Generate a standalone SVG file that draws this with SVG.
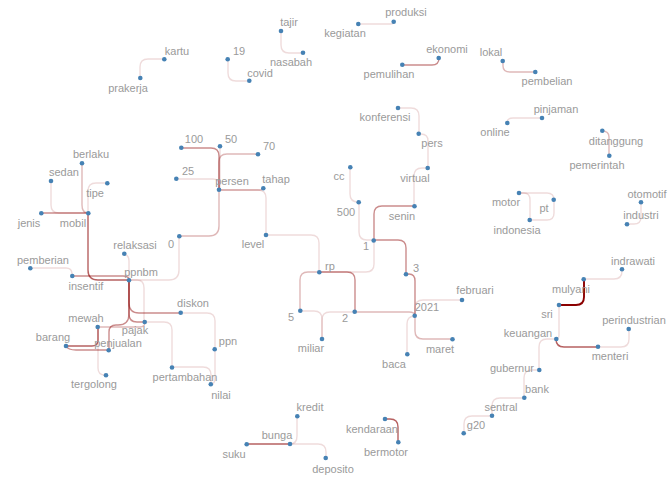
<svg xmlns="http://www.w3.org/2000/svg" width="672" height="480" viewBox="0 0 672 480">
<style>
.e{fill:none;stroke:#8b0000;stroke-width:1.4;stroke-linecap:round}
.l1{stroke-opacity:0.14}
.l2{stroke-opacity:0.28}
.l3{stroke-opacity:0.45}
.l4{stroke-opacity:0.62}
.l5{stroke-opacity:1;stroke-width:1.9}
circle{fill:#4682b4}
text{font-family:"Liberation Sans",Arial,sans-serif;font-size:11px;fill:#9a9a9a;text-anchor:middle}
</style>
<rect width="672" height="480" fill="#ffffff"/>
<g id="edges">
<path class="e l4" d="M88,213 V270 Q88,280 98,280 H129"/>
<path class="e l3" d="M72,276 H123 Q129,276 129,280"/>
<path class="e l1" d="M30,268 H66 Q72,268 72,274 V276"/>
<path class="e l1" d="M124,254 H122 Q129,254 129,261 V280"/>
<path class="e l1" d="M179,236 V270 Q179,280 169,280 H129"/>
<path class="e l1" d="M129,280 H137 Q144,280 144,288 V322"/>
<path class="e l2" d="M179,236 H209 Q219,236 219,226 V190"/>
<path class="e l3" d="M129,280 V303 Q129,313 139,313 H181"/>
<path class="e l3" d="M129,280 V314 Q129,322 137,322 H145"/>
<path class="e l3" d="M129,280 V314 Q129,325 118,325 H116 Q109,325 109,332 V350"/>
<path class="e l2" d="M98,327 H140 Q145,327 145,322"/>
<path class="e l4" d="M66,346 H92 Q98,346 98,340 V327"/>
<path class="e l3" d="M66,346 Q68,350 76,350 H109"/>
<path class="e l1" d="M98,327 V368 Q98,375 105,375 H106"/>
<path class="e l1" d="M181,313 H207 Q215,313 215,321 V349"/>
<path class="e l1" d="M215,349 V378 Q215,384 211,384"/>
<path class="e l1" d="M145,322 H164 Q172,322 172,330 V367"/>
<path class="e l1" d="M172,367 H203 Q211,367 211,375 V384"/>
<path class="e l2" d="M82,163 V205 Q82,213 88,213"/>
<path class="e l1" d="M51,181 V205 Q51,213 59,213 H88"/>
<path class="e l1" d="M107,183 H96 Q88,183 88,191 V213"/>
<path class="e l3" d="M41,213 H88"/>
<path class="e l3" d="M181,148 H211 Q219,148 219,156 V190"/>
<path class="e l1" d="M220,146 V190"/>
<path class="e l2" d="M258,154 H227 Q219,154 219,162 V190"/>
<path class="e l1" d="M176,179 H213 Q219,179 219,185 V190"/>
<path class="e l1" d="M219,190 H258 Q266,190 266,198 V235"/>
<path class="e l2" d="M219,190 H259 Q263,190 263,188"/>
<path class="e l1" d="M266,235 H311 Q319,235 319,243 V272"/>
<path class="e l2" d="M319,272 H308 Q300,272 300,280 V311"/>
<path class="e l3" d="M319,272 H347 Q355,272 355,280 V312"/>
<path class="e l1" d="M319,272 H366 Q374,272 374,264 V240"/>
<path class="e l1" d="M300,311 H314 Q322,311 322,319 V339"/>
<path class="e l1" d="M355,312 H330 Q322,312 322,320 V339"/>
<path class="e l2" d="M355,312 H409 Q415,312 415,316"/>
<path class="e l3" d="M374,240 H398 Q406,240 406,248 V274"/>
<path class="e l3" d="M406,274 H409 Q415,274 415,281 V316"/>
<path class="e l1" d="M462,300 H423 Q415,300 415,308 V316"/>
<path class="e l2" d="M415,316 V331 Q415,339 423,339 H452"/>
<path class="e l1" d="M407,354 V324 Q407,316 415,316"/>
<path class="e l1" d="M350,167 V194 Q350,202 358,202 H359"/>
<path class="e l1" d="M359,202 V232 Q359,240 367,240 H374"/>
<path class="e l3" d="M414,206 H382 Q374,206 374,214 V240"/>
<path class="e l1" d="M428,168 H422 Q414,168 414,176 V206"/>
<path class="e l1" d="M419,134 H421 Q428,134 428,141 V168"/>
<path class="e l1" d="M398,108 H411 Q419,108 419,116 V134"/>
<path class="e l5" d="M559,305 H576 Q584,305 584,297 V279"/>
<path class="e l1" d="M584,279 H614 Q622,279 622,271 V269"/>
<path class="e l1" d="M559,305 V335 Q559,339 556,339"/>
<path class="e l4" d="M556,339 Q556,347 564,347 H598"/>
<path class="e l1" d="M598,347 H621 Q629,347 629,339 V329"/>
<path class="e l1" d="M556,339 H547 Q539,339 539,347 V370"/>
<path class="e l1" d="M539,370 H532 Q524,370 524,378 V398"/>
<path class="e l1" d="M524,398 H500 Q492,398 492,406 V416"/>
<path class="e l1" d="M492,416 H472 Q464,416 464,424 V433"/>
<path class="e l4" d="M247,444 H290"/>
<path class="e l1" d="M297,416 V436 Q297,444 290,444"/>
<path class="e l1" d="M290,444 H318 Q326,444 326,452 V458"/>
<path class="e l4" d="M385,419 H390 Q398,419 398,427 V442"/>
<path class="e l1" d="M358,24 H390 Q394,24 394,22"/>
<path class="e l3" d="M402,65 H432 Q439,65 439,58"/>
<path class="e l2" d="M503,61 V66 Q503,72 510,72 H535"/>
<path class="e l1" d="M507,123 Q507,118 513,118 H542"/>
<path class="e l2" d="M602,131 Q609,131 609,137 V156"/>
<path class="e l1" d="M519,193 H547 Q554,193 554,200"/>
<path class="e l1" d="M519,193 H524 Q530,193 530,200 V220"/>
<path class="e l1" d="M530,220 H547 Q554,220 554,213 V200"/>
<path class="e l1" d="M641,202 V217 Q641,224 634,224 H627"/>
<path class="e l1" d="M164,59 H148 Q140,59 140,67 V78"/>
<path class="e l1" d="M228,59 V73 Q228,81 236,81 H249"/>
<path class="e l1" d="M281,31 V45 Q281,53 289,53 H303"/>
</g>
<g id="n-produksi"><circle cx="393.7" cy="21.7" r="2.3"/><text x="406" y="16">produksi</text></g>
<g id="n-kegiatan"><circle cx="358.3" cy="24" r="2.3"/><text x="345" y="37">kegiatan</text></g>
<g id="n-tajir"><circle cx="281" cy="31" r="2.3"/><text x="289" y="26">tajir</text></g>
<g id="n-nasabah"><circle cx="303" cy="52.7" r="2.3"/><text x="291" y="66">nasabah</text></g>
<g id="n-kartu"><circle cx="164.3" cy="59.3" r="2.3"/><text x="177" y="55">kartu</text></g>
<g id="n-prakerja"><circle cx="140.3" cy="78" r="2.3"/><text x="128" y="92">prakerja</text></g>
<g id="n-19"><circle cx="227.7" cy="59.3" r="2.3"/><text x="239" y="55">19</text></g>
<g id="n-covid"><circle cx="249.3" cy="80.7" r="2.3"/><text x="260" y="77">covid</text></g>
<g id="n-ekonomi"><circle cx="438.7" cy="58" r="2.3"/><text x="447" y="53">ekonomi</text></g>
<g id="n-pemulihan"><circle cx="402.3" cy="64.7" r="2.3"/><text x="389" y="78">pemulihan</text></g>
<g id="n-lokal"><circle cx="502.7" cy="61" r="2.3"/><text x="491" y="56">lokal</text></g>
<g id="n-pembelian"><circle cx="535.3" cy="72" r="2.3"/><text x="547" y="85">pembelian</text></g>
<g id="n-konferensi"><circle cx="398" cy="108" r="2.3"/><text x="385" y="121">konferensi</text></g>
<g id="n-pers"><circle cx="418.7" cy="133.7" r="2.3"/><text x="432" y="147">pers</text></g>
<g id="n-online"><circle cx="507.3" cy="123" r="2.3"/><text x="495" y="136">online</text></g>
<g id="n-pinjaman"><circle cx="542" cy="118" r="2.3"/><text x="556" y="113">pinjaman</text></g>
<g id="n-ditanggung"><circle cx="602.3" cy="130.7" r="2.3"/><text x="616" y="145">ditanggung</text></g>
<g id="n-pemerintah"><circle cx="609.3" cy="155.7" r="2.3"/><text x="597" y="169">pemerintah</text></g>
<g id="n-virtual"><circle cx="427.7" cy="168" r="2.3"/><text x="415" y="182">virtual</text></g>
<g id="n-cc"><circle cx="350.3" cy="167.3" r="2.3"/><text x="339" y="180">cc</text></g>
<g id="n-500"><circle cx="358.7" cy="202.3" r="2.3"/><text x="346" y="216">500</text></g>
<g id="n-senin"><circle cx="414.5" cy="206.3" r="2.3"/><text x="402" y="220">senin</text></g>
<g id="n-motor"><circle cx="519" cy="193" r="2.3"/><text x="506" y="206">motor</text></g>
<g id="n-pt"><circle cx="553.7" cy="199.7" r="2.3"/><text x="544" y="212">pt</text></g>
<g id="n-indonesia"><circle cx="529.7" cy="220" r="2.3"/><text x="517" y="234">indonesia</text></g>
<g id="n-otomotif"><circle cx="641" cy="202.3" r="2.3"/><text x="647" y="198">otomotif</text></g>
<g id="n-industri"><circle cx="627" cy="224.3" r="2.3"/><text x="641" y="219">industri</text></g>
<g id="n-100"><circle cx="181.3" cy="147.7" r="2.3"/><text x="194" y="143">100</text></g>
<g id="n-50"><circle cx="220" cy="146.3" r="2.3"/><text x="231" y="143">50</text></g>
<g id="n-70"><circle cx="258" cy="154.3" r="2.3"/><text x="269" y="150">70</text></g>
<g id="n-25"><circle cx="176.3" cy="178.7" r="2.3"/><text x="188" y="175">25</text></g>
<g id="n-persen"><circle cx="219" cy="189.7" r="2.3"/><text x="232" y="185">persen</text></g>
<g id="n-tahap"><circle cx="263.3" cy="188.3" r="2.3"/><text x="276" y="183">tahap</text></g>
<g id="n-0"><circle cx="179.3" cy="236.3" r="2.3"/><text x="171" y="248">0</text></g>
<g id="n-level"><circle cx="266" cy="235" r="2.3"/><text x="253" y="248">level</text></g>
<g id="n-berlaku"><circle cx="82" cy="163.3" r="2.3"/><text x="91" y="158">berlaku</text></g>
<g id="n-sedan"><circle cx="51" cy="181" r="2.3"/><text x="64" y="176">sedan</text></g>
<g id="n-tipe"><circle cx="107.3" cy="183.3" r="2.3"/><text x="95" y="197">tipe</text></g>
<g id="n-jenis"><circle cx="41.3" cy="213.3" r="2.3"/><text x="29" y="227">jenis</text></g>
<g id="n-mobil"><circle cx="88.3" cy="213.3" r="2.3"/><text x="73" y="227">mobil</text></g>
<g id="n-relaksasi"><circle cx="124.3" cy="253.7" r="2.3"/><text x="135" y="249">relaksasi</text></g>
<g id="n-pemberian"><circle cx="30.3" cy="268.3" r="2.3"/><text x="43" y="264">pemberian</text></g>
<g id="n-insentif"><circle cx="72.3" cy="276" r="2.3"/><text x="86" y="290">insentif</text></g>
<g id="n-ppnbm"><circle cx="129" cy="280.3" r="2.3"/><text x="141" y="276">ppnbm</text></g>
<g id="n-diskon"><circle cx="180.7" cy="312.7" r="2.3"/><text x="193" y="307">diskon</text></g>
<g id="n-mewah"><circle cx="97.7" cy="327" r="2.3"/><text x="86" y="322">mewah</text></g>
<g id="n-pajak"><circle cx="144.7" cy="322" r="2.3"/><text x="135" y="334">pajak</text></g>
<g id="n-barang"><circle cx="66" cy="346" r="2.3"/><text x="53" y="341">barang</text></g>
<g id="n-penjualan"><circle cx="108.7" cy="350.3" r="2.3"/><text x="118" y="347">penjualan</text></g>
<g id="n-ppn"><circle cx="214.7" cy="349.3" r="2.3"/><text x="228" y="345">ppn</text></g>
<g id="n-pertambahan"><circle cx="172" cy="367.5" r="2.3"/><text x="185" y="381">pertambahan</text></g>
<g id="n-nilai"><circle cx="210.8" cy="384.2" r="2.3"/><text x="221" y="399">nilai</text></g>
<g id="n-tergolong"><circle cx="106" cy="375.2" r="2.3"/><text x="94" y="388">tergolong</text></g>
<g id="n-1"><circle cx="373.7" cy="240.5" r="2.3"/><text x="366" y="250">1</text></g>
<g id="n-rp"><circle cx="319.3" cy="272.3" r="2.3"/><text x="330" y="270">rp</text></g>
<g id="n-3"><circle cx="406" cy="274.3" r="2.3"/><text x="416" y="272">3</text></g>
<g id="n-februari"><circle cx="462" cy="300" r="2.3"/><text x="475" y="294">februari</text></g>
<g id="n-5"><circle cx="300.3" cy="310.7" r="2.3"/><text x="291" y="321">5</text></g>
<g id="n-2"><circle cx="354.7" cy="311.7" r="2.3"/><text x="345" y="322">2</text></g>
<g id="n-2021"><circle cx="414.7" cy="315.7" r="2.3"/><text x="427" y="311">2021</text></g>
<g id="n-miliar"><circle cx="322" cy="339" r="2.3"/><text x="311" y="352">miliar</text></g>
<g id="n-maret"><circle cx="452.5" cy="339.2" r="2.3"/><text x="440" y="353">maret</text></g>
<g id="n-baca"><circle cx="407.3" cy="354.3" r="2.3"/><text x="394" y="368">baca</text></g>
<g id="n-indrawati"><circle cx="622" cy="269.3" r="2.3"/><text x="633" y="265">indrawati</text></g>
<g id="n-mulyani"><circle cx="583.7" cy="279.3" r="2.3"/><text x="571" y="293">mulyani</text></g>
<g id="n-sri"><circle cx="559" cy="305" r="2.3"/><text x="547" y="318">sri</text></g>
<g id="n-perindustrian"><circle cx="628.7" cy="329" r="2.3"/><text x="634" y="324">perindustrian</text></g>
<g id="n-keuangan"><circle cx="556.3" cy="339" r="2.3"/><text x="528" y="337">keuangan</text></g>
<g id="n-menteri"><circle cx="598" cy="346.7" r="2.3"/><text x="610" y="360">menteri</text></g>
<g id="n-gubernur"><circle cx="539.3" cy="370" r="2.3"/><text x="512" y="372">gubernur</text></g>
<g id="n-bank"><circle cx="524.3" cy="397.7" r="2.3"/><text x="537" y="393">bank</text></g>
<g id="n-sentral"><circle cx="492" cy="415.7" r="2.3"/><text x="501" y="411">sentral</text></g>
<g id="n-g20"><circle cx="463.7" cy="433.3" r="2.3"/><text x="476" y="429">g20</text></g>
<g id="n-kredit"><circle cx="297.3" cy="416.3" r="2.3"/><text x="310" y="411">kredit</text></g>
<g id="n-bunga"><circle cx="290" cy="444" r="2.3"/><text x="277" y="439">bunga</text></g>
<g id="n-suku"><circle cx="246.7" cy="444.3" r="2.3"/><text x="234" y="458">suku</text></g>
<g id="n-deposito"><circle cx="325.7" cy="458" r="2.3"/><text x="333" y="473">deposito</text></g>
<g id="n-kendaraan"><circle cx="385" cy="419" r="2.3"/><text x="372" y="433">kendaraan</text></g>
<g id="n-bermotor"><circle cx="398.3" cy="442.3" r="2.3"/><text x="386" y="456">bermotor</text></g>
</svg>
